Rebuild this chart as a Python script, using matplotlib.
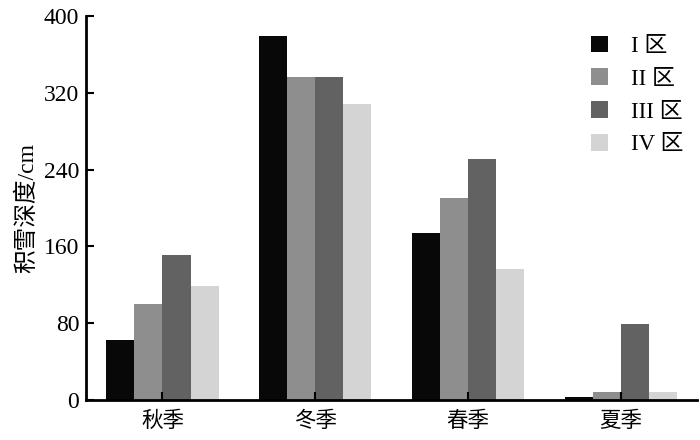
import numpy as np
import matplotlib.pyplot as plt

# Data
seasons = ['秋季', '冬季', '春季', '夏季']
zones = ['I 区', 'II 区', 'III 区', 'IV 区']
zone1 = [62, 379, 174, 3]
zone2 = [100, 336, 210, 8]
zone3 = [151, 336, 251, 79]
zone4 = [119, 308, 136, 8]
yticks = [0, 80, 160, 240, 320, 400]

colors = ['#080808', '#8e8e8e', '#626262', '#d4d4d4']

plt.rcParams['font.family'] = ['Liberation Serif', 'Noto Sans CJK SC']

fig = plt.figure(figsize=(7, 4.4), dpi=100)
ax = fig.add_axes([0.123, 0.0909, 0.873, 0.8727])

x = np.arange(len(seasons))
width = 0.184
series = [zone1, zone2, zone3, zone4]
for i, (vals, c, lab) in enumerate(zip(series, colors, zones)):
    ax.bar(x + (i - 1.5) * width, vals, width=width, color=c, label=lab,
           linewidth=0)

ax.set_xlim(-0.5, 3.5)
ax.set_ylim(0, 400)
ax.set_yticks(yticks)
ax.set_xticks(x)
ax.set_xticklabels(seasons, fontsize=15.5, family=['Noto Sans CJK SC'])
ax.tick_params(axis='y', direction='in', length=6, width=1.5, labelsize=17, pad=5)
ax.tick_params(axis='x', direction='in', length=6, width=1.5, pad=7)

for s in ['top', 'right']:
    ax.spines[s].set_visible(False)
for s in ['left', 'bottom']:
    ax.spines[s].set_linewidth(2)

ax.set_ylabel('积雪深度/cm', fontsize=17, labelpad=4)

ax.legend(loc='upper right', bbox_to_anchor=(1.0, 0.985), frameon=False,
          fontsize=16.5, handlelength=0.75, handleheight=0.75, handletextpad=1.0,
          labelspacing=0.5, borderaxespad=0.2)

fig.savefig('out.png', dpi=100)
